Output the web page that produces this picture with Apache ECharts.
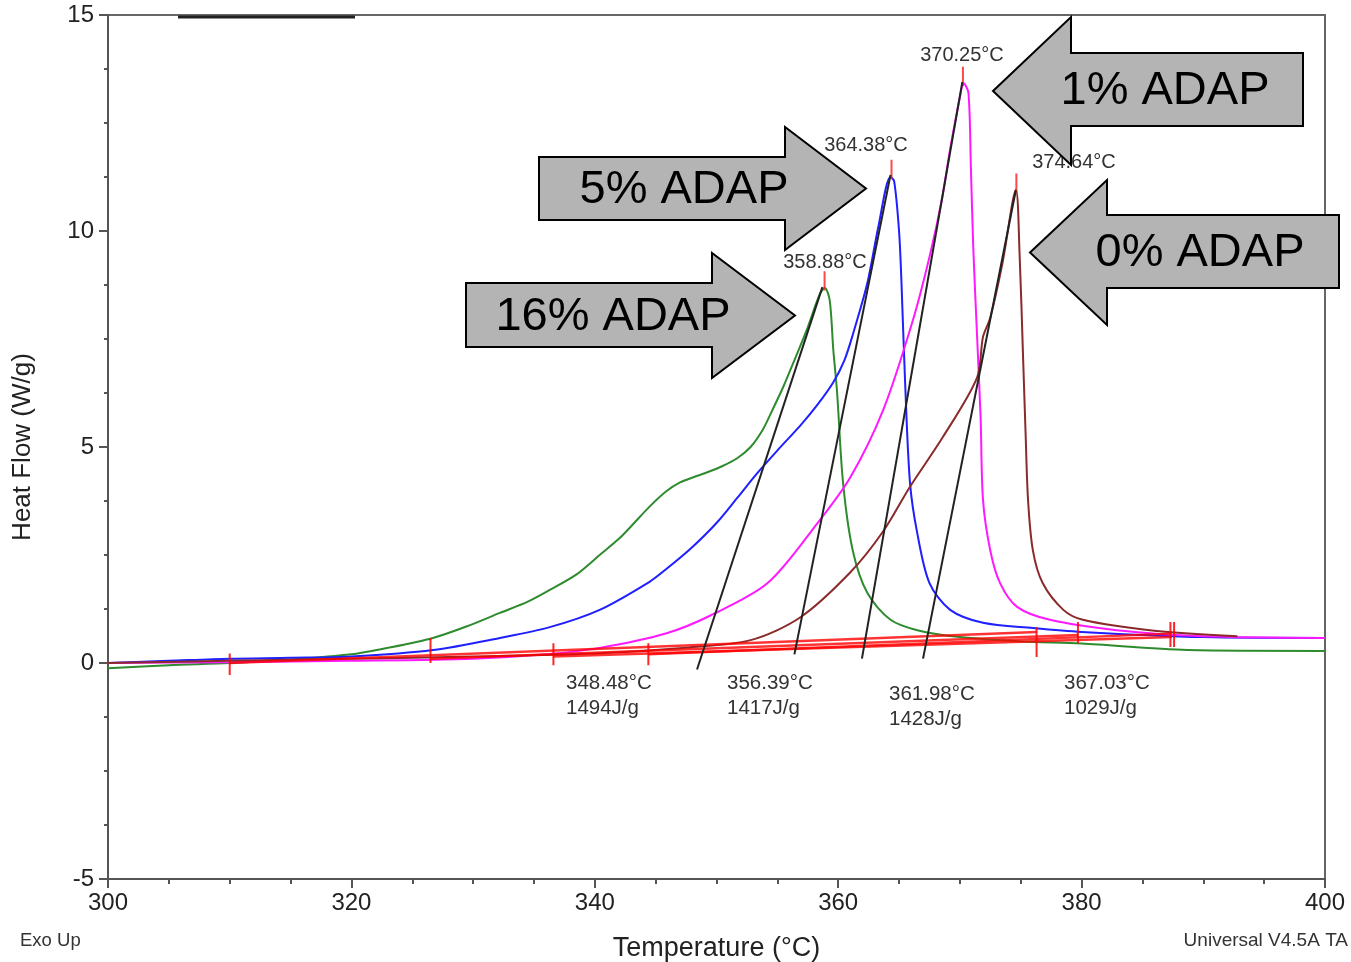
<!DOCTYPE html>
<html>
<head>
<meta charset="utf-8">
<script src="https://cdn.jsdelivr.net/npm/echarts@6/dist/echarts.min.js"></script>
<style>
  html, body { margin: 0; padding: 0; background: #fff; }
  #chart { width: 1351px; height: 962px; }
</style>
</head>
<body>
<div id="chart"></div>
<script>
// DSC curves, heat flow (W/g) vs temperature (°C)
var adap16T = [300, 305, 310, 315, 320, 323, 326.7, 329.5, 332.2, 334.5, 336.3, 338.5, 340.4, 342, 343.1, 344.5, 345.9, 347, 348.1, 349.3, 350.5, 351.7, 352.8, 353.8, 354.6, 355.5, 356.3, 357.4, 358.5, 358.9, 359.3, 359.6, 359.9, 360.4, 361.2, 362.4, 364.3, 366.5, 370, 375, 380, 388.7, 400]
var adap16HF = [-0.12, -0.05, 0.0, 0.08, 0.2, 0.35, 0.58, 0.85, 1.16, 1.42, 1.69, 2.05, 2.5, 2.88, 3.2, 3.62, 3.98, 4.18, 4.3, 4.42, 4.56, 4.74, 5.0, 5.4, 5.86, 6.4, 6.94, 7.7, 8.55, 8.68, 8.4, 7.24, 6.3, 4.17, 2.6, 1.62, 1.0, 0.76, 0.6, 0.5, 0.45, 0.3, 0.28]

var adap5T = [300, 305, 310, 315, 320, 326.7, 332.2, 336.3, 340.4, 344.5, 345.9, 348, 350, 351.7, 353.3, 355.1, 356.9, 358.3, 359.6, 360.5, 361.2, 362.4, 363.3, 364.3, 364.6, 365.0, 365.2, 365.5, 365.9, 366.5, 367.5, 369.2, 371.9, 376, 380, 390, 400]
var adap5HF = [0.0, 0.05, 0.1, 0.12, 0.15, 0.3, 0.58, 0.83, 1.23, 1.88, 2.18, 2.68, 3.24, 3.82, 4.38, 4.95, 5.5, 5.98, 6.5, 7.0, 7.6, 8.8, 10.1, 11.25, 11.15, 10.0, 8.8, 6.48, 4.17, 3.0, 1.85, 1.23, 0.93, 0.81, 0.72, 0.6, 0.58]

var adap1T = [300, 310, 320, 330, 336, 340.4, 345.9, 349.5, 354.2, 358.3, 361.0, 363.7, 366.1, 367.5, 368.5, 369.2, 370.0, 370.3, 370.7, 370.9, 371.1, 371.4, 371.7, 371.9, 372.5, 373.3, 374.7, 377.4, 382.9, 390, 400]
var adap1HF = [0.0, 0.02, 0.05, 0.1, 0.2, 0.35, 0.69, 1.1, 1.85, 3.24, 4.3, 5.86, 7.9, 9.4, 10.7, 11.9, 13.1, 13.42, 13.2, 11.5, 9.6, 7.64, 5.7, 3.77, 2.6, 1.85, 1.3, 1.0, 0.76, 0.62, 0.58]

var adap0T = [300, 310, 320, 330, 340, 347.2, 352.8, 356.9, 361.0, 363.7, 365.9, 368.6, 371.4, 371.9, 372.5, 373.5, 374.6, 374.9, 375.2, 375.4, 375.6, 376.0, 376.8, 378.5, 380.1, 385.6, 392.8]
var adap0HF = [0.0, 0.05, 0.1, 0.15, 0.22, 0.35, 0.53, 1.06, 2.1, 3.05, 4.08, 5.23, 6.6, 7.55, 8.0, 9.26, 10.95, 9.5, 7.0, 5.3, 3.77, 2.6, 1.85, 1.23, 1.0, 0.76, 0.62]

// onset tangents: [T, HF] start and end
var tangent16 = [[348.4, -0.15], [358.7, 8.7]]
var tangent5 = [[356.4, 0.2], [364.3, 11.3]]
var tangent1 = [[361.95, 0.1], [370.2, 13.45]]
var tangent0 = [[366.97, 0.1], [374.6, 10.95]]

// integration baselines
var base16 = [[310, 0.0], [376.3, 0.72]]
var base5 = [[326.5, 0.1], [379.7, 0.65]]
var base1 = [[336.6, 0.15], [387.4, 0.6]]
var base0 = [[344.4, 0.2], [387.4, 0.68]]

// integration limit marks [T, low, high]
var limits = [[310, -0.28, 0.22], [326.5, 0.0, 0.58], [336.6, -0.05, 0.46], [344.4, -0.05, 0.46], [376.3, 0.14, 0.83], [379.7, 0.46, 0.95], [387.3, 0.37, 0.95], [387.6, 0.37, 0.95]]

// peak marks
var peakT = [358.88, 364.38, 370.25, 374.64]
var peakHF = [8.72, 11.3, 13.45, 10.98]

var peakLabels = ['358.88°C', '364.38°C', '370.25°C', '374.64°C']
var onsetLabels = ['348.48°C\n1494J/g', '356.39°C\n1417J/g', '361.98°C\n1428J/g', '367.03°C\n1029J/g']
var arrowLabels = ['16% ADAP', '5% ADAP', '1% ADAP', '0% ADAP']

function zip (ts, hs) {
  return ts.map(function (t, i) { return [t, hs[i]] })
}

function limitData () {
  var out = []
  limits.forEach(function (l) {
    out.push([l[0], l[1]])
    out.push([l[0], l[2]])
    out.push('-')
  })
  return out
}

function peakData () {
  var out = []
  peakT.forEach(function (t, i) {
    out.push([t, peakHF[i] - 0.1])
    out.push([t, peakHF[i] + 0.35])
    out.push('-')
  })
  return out
}

var FONT = 'Liberation Sans, Arial, sans-serif'

function curve (name, data, color) {
  return {
    name: name, type: 'line', data: data, showSymbol: false, smooth: 0.3,
    lineStyle: { color: color, width: 2 }, z: 2
  }
}
function seg (data, color, width, z) {
  return { type: 'line', data: data, showSymbol: false, lineStyle: { color: color, width: width }, z: z }
}

function arrowRight (x0, x1, xTip, yTop, yBot, hTop, hBot) {
  var yMid = (hTop + hBot) / 2
  return [[x0, yTop], [x1, yTop], [x1, hTop], [xTip, yMid], [x1, hBot], [x1, yBot], [x0, yBot]]
}
function arrowLeft (xTip, x1, x2, yTop, yBot, hTop, hBot) {
  var yMid = (hTop + hBot) / 2
  return [[xTip, yMid], [x1, hTop], [x1, yTop], [x2, yTop], [x2, yBot], [x1, yBot], [x1, hBot]]
}

var arrows = [
  { pts: arrowRight(466, 712, 795, 283, 347, 253, 378), tx: 613, ty: 317, label: arrowLabels[0] },
  { pts: arrowRight(539, 785, 866, 157, 220, 127, 250), tx: 684, ty: 190, label: arrowLabels[1] },
  { pts: arrowLeft(993, 1071, 1303, 53, 126, 17, 165), tx: 1165, ty: 91, label: arrowLabels[2] },
  { pts: arrowLeft(1030, 1107, 1339, 215, 288, 180, 325), tx: 1200, ty: 253, label: arrowLabels[3] }
]

var peakPos = [[825, 262], [866, 145], [962, 55], [1074, 162]]
var onsetPos = [[566, 683], [727, 683], [889, 694], [1064, 683]]

var graphics = []
arrows.forEach(function (a) {
  graphics.push({ type: 'polygon', shape: { points: a.pts }, style: { fill: '#b4b4b4', stroke: '#000', lineWidth: 2 }, z: 100 })
  graphics.push({ type: 'text', x: a.tx, y: a.ty, z: 101,
    style: { text: a.label, font: '47px ' + FONT, fill: '#000', align: 'center', verticalAlign: 'middle' } })
})
peakLabels.forEach(function (s, i) {
  graphics.push({ type: 'text', x: peakPos[i][0], y: peakPos[i][1], z: 90,
    style: { text: s, font: '20px ' + FONT, fill: '#333', align: 'center', verticalAlign: 'middle' } })
})
onsetLabels.forEach(function (s, i) {
  graphics.push({ type: 'text', x: onsetPos[i][0], y: onsetPos[i][1] - 12, z: 90,
    style: { text: s, font: '20.5px ' + FONT, fill: '#333', align: 'left', verticalAlign: 'top', lineHeight: 25 } })
})
graphics.push({ type: 'line', shape: { x1: 178, y1: 17, x2: 355, y2: 17 }, style: { stroke: '#222', lineWidth: 3 }, z: 50 })
graphics.push({ type: 'text', x: 20, y: 941, style: { text: 'Exo Up', font: '18.5px ' + FONT, fill: '#333', verticalAlign: 'middle' } })
graphics.push({ type: 'text', x: 1348, y: 941, style: { text: 'Universal V4.5A TA', font: '19px ' + FONT, fill: '#333', align: 'right', verticalAlign: 'middle' } })

var chart = echarts.init(document.getElementById('chart'))
chart.setOption({
  animation: false,
  backgroundColor: '#fff',
  grid: { left: 108, right: 26, top: 15, bottom: 83, show: true, borderColor: '#666', borderWidth: 2, outerBoundsMode: 'none' },
  xAxis: {
    type: 'value', min: 300, max: 400, interval: 20,
    name: 'Temperature (°C)', nameLocation: 'middle', nameGap: 56,
    nameTextStyle: { fontFamily: FONT, fontSize: 27, color: '#222' },
    axisLine: { onZero: false, lineStyle: { color: '#555', width: 2 } },
    axisTick: { length: 9, lineStyle: { color: '#555', width: 2 } },
    minorTick: { show: true, splitNumber: 4, length: 5, lineStyle: { color: '#555', width: 2 } },
    axisLabel: { fontFamily: FONT, fontSize: 24, color: '#222', margin: 12 },
    splitLine: { show: false }
  },
  yAxis: {
    type: 'value', min: -5, max: 15, interval: 5,
    name: 'Heat Flow (W/g)', nameLocation: 'middle', nameGap: 72, nameRotate: 90,
    nameTextStyle: { fontFamily: FONT, fontSize: 26, color: '#222' },
    axisLine: { onZero: false, lineStyle: { color: '#555', width: 2 } },
    axisTick: { length: 9, lineStyle: { color: '#555', width: 2 } },
    minorTick: { show: true, splitNumber: 4, length: 4, lineStyle: { color: '#555', width: 2 } },
    axisLabel: { fontFamily: FONT, fontSize: 24, color: '#222', margin: 14 },
    splitLine: { show: false }
  },
  series: [
    curve('16% ADAP', zip(adap16T, adap16HF), '#2e8b2e'),
    curve('5% ADAP', zip(adap5T, adap5HF), '#1f1fff'),
    curve('1% ADAP', zip(adap1T, adap1HF), '#ff19ff'),
    curve('0% ADAP', zip(adap0T, adap0HF), '#8b2a2a'),
    seg(base16, 'rgba(255,0,0,0.8)', 2.5, 3),
    seg(base5, 'rgba(255,0,0,0.8)', 2.5, 3),
    seg(base1, 'rgba(255,0,0,0.8)', 2.5, 3),
    seg(base0, 'rgba(255,0,0,0.8)', 2.5, 3),
    seg(limitData(), 'rgba(255,0,0,0.85)', 2, 4),
    seg(peakData(), 'rgba(255,40,40,0.85)', 2, 4),
    seg(tangent16, '#222', 2, 5),
    seg(tangent5, '#222', 2, 5),
    seg(tangent1, '#222', 2, 5),
    seg(tangent0, '#222', 2, 5)
  ],
  graphic: graphics
})
</script>
</body>
</html>
